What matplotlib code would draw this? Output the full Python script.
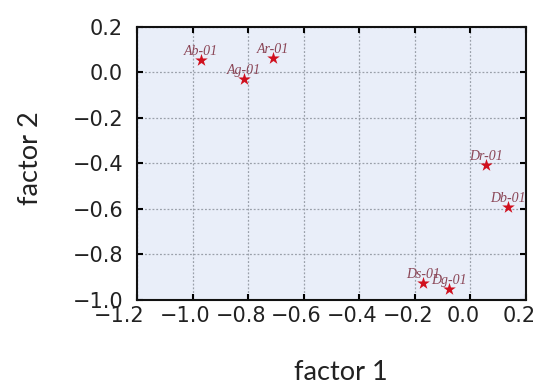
import matplotlib
matplotlib.use("Agg")
import matplotlib.pyplot as plt
from matplotlib.transforms import ScaledTranslation

labels = ["Ab-01", "Ar-01", "Ag-01", "Dr-01", "Db-01", "Ds-01", "Dg-01"]
factor1 = [-0.97, -0.71, -0.815, 0.055, 0.135, -0.17, -0.075]
factor2 = [0.055, 0.063, -0.03, -0.405, -0.59, -0.925, -0.952]

xticks = [-1.2, -1.0, -0.8, -0.6, -0.4, -0.2, 0.0, 0.2]
yticks = [-1.0, -0.8, -0.6, -0.4, -0.2, 0.0, 0.2]

fig = plt.figure(figsize=(5.36, 3.85), dpi=100)
ax = fig.add_axes([0.2556, 0.221, 0.7254, 0.709])
ax.set_facecolor("#e9eef9")

ax.scatter(factor1, factor2, marker="*", s=90, color="#d0101e", zorder=3, linewidths=0)
for lab, x, y in zip(labels, factor1, factor2):
    ax.annotate(lab, (x, y), xytext=(0, 2), textcoords="offset pixels",
                ha="center", va="bottom", fontsize=10, color="#8a4556",
                family="Liberation Serif", style="italic", zorder=4,
                annotation_clip=False)

ax.set_xlim(-1.2, 0.2)
ax.set_ylim(-1.0, 0.2)
ax.set_xticks(xticks)
ax.set_yticks(yticks)
ax.set_xticklabels([f"{v:.1f}".replace("-", "\u2212") for v in xticks])
ax.set_yticklabels([f"{v:.1f}".replace("-", "\u2212") for v in yticks])
ax.grid(True, linestyle=(0, (1.5, 1.5)), color="#9aa0aa", linewidth=0.9)
ax.set_axisbelow(True)
ax.tick_params(direction="in", top=True, right=True, length=4, width=1.5,
               labelsize=15)
ax.tick_params(axis="x", pad=4.5)
ax.tick_params(axis="y", pad=10)
for lbl in ax.get_xticklabels() + ax.get_yticklabels():
    lbl.set_family("DejaVu Sans")
    lbl.set_color("#222222")
xl = ax.get_xticklabels()
for i, lbl in enumerate(xl):
    dx = -18 if i == 0 else -7
    lbl.set_transform(lbl.get_transform() + ScaledTranslation(dx / 100, 0, fig.dpi_scale_trans))
for sp in ax.spines.values():
    sp.set_linewidth(1.5)
    sp.set_color("#111111")

fig.text(341 / 536, 1 - 372 / 385, "factor 1", fontsize=19.5, family="Lato",
         color="#222222", ha="center", va="center")
fig.text(30 / 536, 1 - 158 / 385, "factor 2", fontsize=19.5, family="Lato",
         color="#222222", ha="center", va="center", rotation=90)

fig.savefig("out.png", dpi=100)
